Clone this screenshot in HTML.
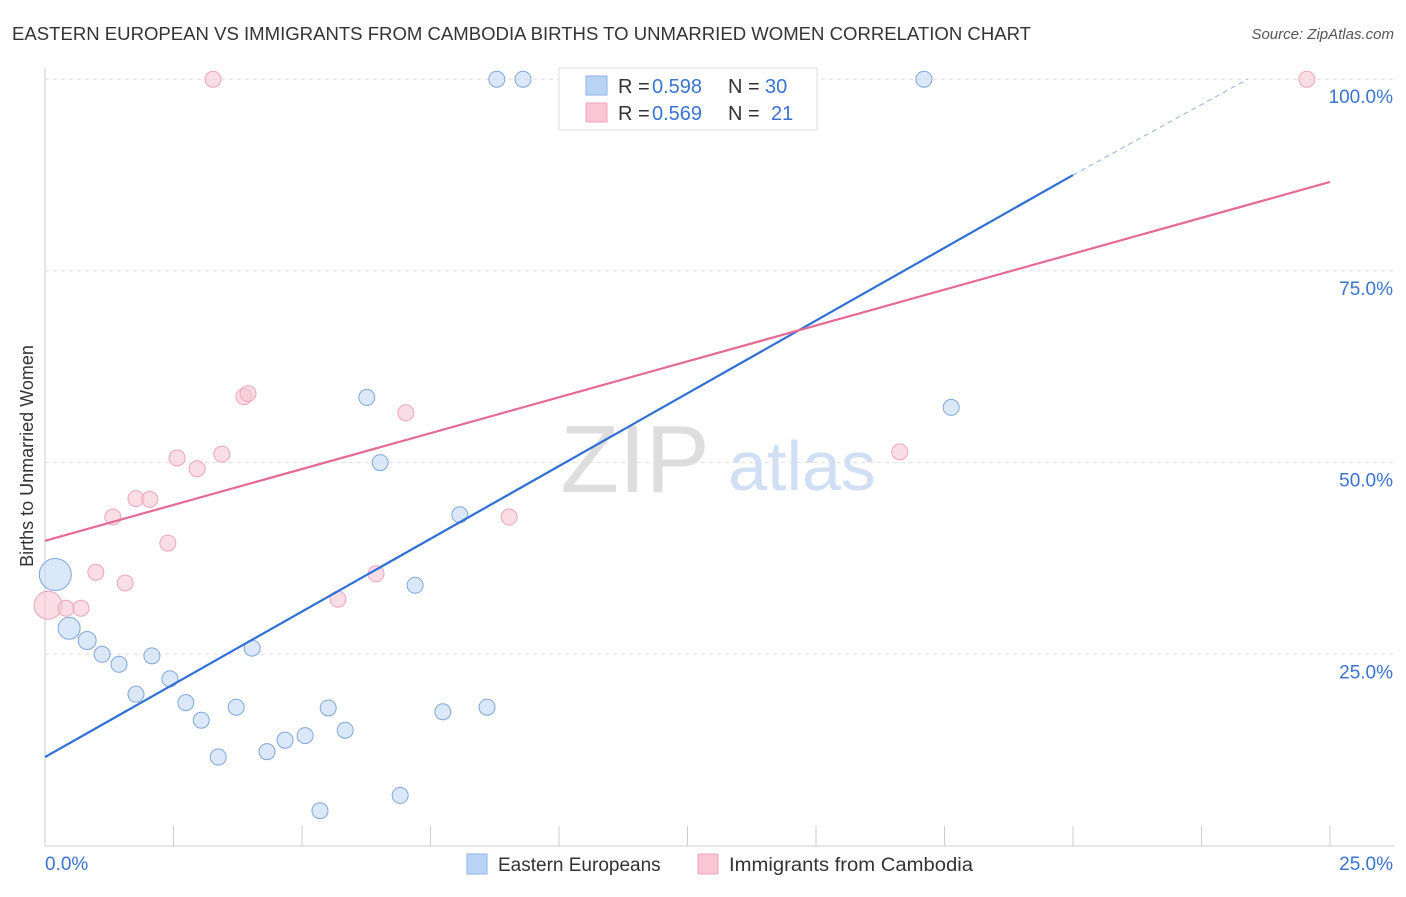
<!DOCTYPE html>
<html><head><meta charset="utf-8"><style>
body{margin:0;background:#fff;font-family:"Liberation Sans",sans-serif}
svg text{font-family:"Liberation Sans",sans-serif}
</style></head><body>
<svg id="c" width="1406" height="892">
<text x="12" y="40" font-size="18" fill="#333" textLength="1019" lengthAdjust="spacingAndGlyphs">EASTERN EUROPEAN VS IMMIGRANTS FROM CAMBODIA BIRTHS TO UNMARRIED WOMEN CORRELATION CHART</text>
<text x="1394" y="39" font-size="15" fill="#555" font-style="italic" text-anchor="end">Source: ZipAtlas.com</text>
<text x="33" y="456" font-size="18" fill="#333" transform="rotate(-90 33 456)" text-anchor="middle">Births to Unmarried Women</text>
<text x="635" y="492" font-size="96" fill="#ddd" font-family="Liberation Serif" text-anchor="middle">ZIP</text>
<text x="802" y="490" font-size="70" fill="#d0dff3" text-anchor="middle">atlas</text>
<g id="grid"></g><g id="marks"></g>
<g>
<rect x="559" y="68" width="258" height="62" fill="#fff" stroke="#ddd"/>
<rect x="586" y="76" width="21" height="19" fill="#b9d3f5" stroke="#8fb3e6"/>
<rect x="586" y="103" width="21" height="19" fill="#f9c6d5" stroke="#eea5bb"/>
<text x="618" y="93" font-size="20" fill="#333">R =</text><text x="652" y="93" font-size="20" fill="#3b74d0">0.598</text>
<text x="728" y="93" font-size="20" fill="#333">N =</text><text x="765" y="93" font-size="20" fill="#3b74d0">30</text>
<text x="618" y="120" font-size="20" fill="#333">R =</text><text x="652" y="120" font-size="20" fill="#3b74d0">0.569</text>
<text x="728" y="120" font-size="20" fill="#333">N =</text><text x="771" y="120" font-size="20" fill="#3b74d0">21</text>
</g>
<g>
<rect x="467" y="854" width="20" height="20" fill="#b9d3f5" stroke="#8fb3e6"/>
<text x="498" y="871" font-size="19" fill="#333">Eastern Europeans</text>
<rect x="698" y="854" width="20" height="20" fill="#f9c6d5" stroke="#eea5bb"/>
<text x="729" y="871" font-size="19" fill="#333" textLength="244" lengthAdjust="spacingAndGlyphs">Immigrants from Cambodia</text>
</g>
</svg>
<script>
const yTicks=[25,50,75,100];
const blueX=[0.2,0.47,0.82,1.11,1.44,1.77,2.08,2.43,2.74,3.04,3.37,3.72,4.03,4.32,4.67,5.06,5.35,5.51,5.84,6.26,6.52,6.91,7.2,7.74,8.07,8.6,8.79,9.3,17.1,17.63];
const blueY=[35.4,28.4,26.8,25.0,23.7,19.8,24.8,21.8,18.7,16.4,11.6,18.1,25.8,12.3,13.8,14.4,4.6,18.0,15.1,58.5,50.0,6.6,34.0,17.5,43.2,18.1,100,100,100,57.2];
const blueR=[16,11,9,8,8,8,8,8,8,8,8,8,8,8,8,8,8,8,8,8,8,8,8,8,8,8,8,8,8,8];
const pinkX=[0.06,0.41,0.7,0.99,1.32,1.56,1.77,2.04,2.39,2.57,2.96,3.27,3.44,3.87,3.95,5.7,6.44,7.02,9.03,16.63,24.55];
const pinkY=[31.4,31.0,31.0,35.7,42.9,34.3,45.3,45.2,39.5,50.6,49.2,100,51.1,58.6,59.0,32.2,35.5,56.5,42.9,51.4,100];
const pinkR=[14,8,8,8,8,8,8,8,8,8,8,8,8,8,8,8,8,8,8,8,8];
const blueLine=[[0,11.6],[20,87.5]], blueDash=[[20,87.5],[23.4,100]];
const pinkLine=[[0,39.8],[25,86.6]];
const X=v=>45+v*51.4, Y=v=>846-v*7.668;
const NS="http://www.w3.org/2000/svg";
function mk(t,a,p){const e=document.createElementNS(NS,t);for(const k in a)e.setAttribute(k,a[k]);p.appendChild(e);return e;}
const g=document.getElementById('grid'), m=document.getElementById('marks');
mk('line',{x1:45,y1:68,x2:45,y2:846,stroke:'#ccc'},g);
mk('line',{x1:45,y1:846,x2:1394,y2:846,stroke:'#ccc'},g);
yTicks.forEach(t=>{const l=mk('line',{x1:45,y1:Y(t),x2:1394,y2:Y(t),stroke:'#ddd','stroke-dasharray':'4 4'},g);


const tx=mk('text',{x:1393,y:Y(t)+24,'font-size':19,fill:'#3b74d0','text-anchor':'end'},g);tx.textContent=t.toFixed(1)+'%';

});
for(let i=1;i<=10;i++){mk('line',{x1:X(i*2.5),y1:826,x2:X(i*2.5),y2:846,stroke:'#ccc'},g);}
let t0=mk('text',{x:45,y:870,'font-size':19,fill:'#3b74d0'},g);t0.textContent='0.0%';


let t1=mk('text',{x:1393,y:870,'font-size':19,fill:'#3b74d0','text-anchor':'end'},g);t1.textContent='25.0%';


function pts(xs,ys,rs,f,s,n){xs.forEach((x,i)=>{const c=mk('circle',{cx:X(x),cy:Y(ys[i]),r:rs[i],fill:f,'fill-opacity':0.6,stroke:s},m);

});}
pts(pinkX,pinkY,pinkR,'#f9c6d5','#eea5bb','cambodia-point');
pts(blueX,blueY,blueR,'#c3d9f5','#7fa7de','eastern-european-point');
const bl=mk('line',{x1:X(blueLine[0][0]),y1:Y(blueLine[0][1]),x2:X(blueLine[1][0]),y2:Y(blueLine[1][1]),stroke:'#2f6fd6','stroke-width':2.2},m);


const bd=mk('line',{x1:X(blueDash[0][0]),y1:Y(blueDash[0][1]),x2:X(blueDash[1][0]),y2:Y(blueDash[1][1]),stroke:'#8fb3e6','stroke-width':1,'stroke-dasharray':'5 4'},m);


const pl=mk('line',{x1:X(pinkLine[0][0]),y1:Y(pinkLine[0][1]),x2:X(pinkLine[1][0]),y2:Y(pinkLine[1][1]),stroke:'#e56b94','stroke-width':2.2},m);


</script>
</body></html>
